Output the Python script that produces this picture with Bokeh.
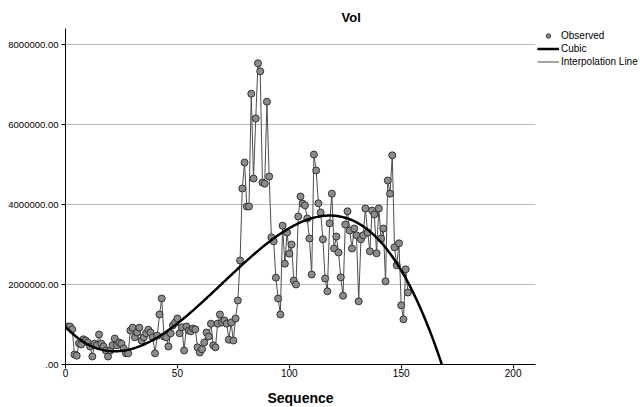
import numpy as np
from bokeh.plotting import figure
from bokeh.models import Range1d, FixedTicker, Legend, LegendItem, ColumnDataSource
from bokeh.embed import file_html
from bokeh.resources import INLINE

# ---- data ----
sequence = list(range(1, 154))
vol = [
    950000, 950000, 880000, 250000, 220000, 530000, 500000, 630000, 600000, 550000,
    450000, 200000, 520000, 480000, 750000, 520000, 450000, 350000, 200000, 350000,
    480000, 650000, 480000, 550000, 520000, 400000, 280000, 280000, 850000, 920000,
    680000, 800000, 920000, 600000, 680000, 780000, 870000, 800000, 680000, 280000,
    720000, 1250000, 1650000, 700000, 680000, 450000, 780000, 980000, 1050000, 1150000,
    780000, 930000, 350000, 950000, 850000, 830000, 900000, 880000, 430000, 300000,
    380000, 550000, 800000, 700000, 1020000, 480000, 430000, 1020000, 1250000, 1050000,
    1100000, 1020000, 620000, 1050000, 600000, 1150000, 1600000, 2600000, 4400000, 5050000,
    3950000, 3950000, 6770000, 4650000, 6150000, 7530000, 7330000, 4550000, 4520000, 6570000,
    4700000, 3180000, 3080000, 2170000, 1650000, 1250000, 3470000, 2520000, 3300000, 2770000,
    3000000, 2100000, 2000000, 3700000, 4200000, 4020000, 3980000, 3650000, 3150000, 2250000,
    5250000, 4850000, 4030000, 3800000, 3130000, 2150000, 1830000, 3530000, 4270000, 2900000,
    3200000, 2800000, 2180000, 1720000, 3500000, 3830000, 3350000, 2900000, 3400000, 3230000,
    1580000, 3130000, 3230000, 3900000, 3300000, 2830000, 3850000, 3750000, 2780000, 3900000,
    3150000, 3400000, 2080000, 4600000, 4270000, 5230000, 2930000, 2480000, 3030000, 1480000,
    1130000, 2380000, 1800000,
]
x_ticks = [0, 50, 100, 150, 200]
y_ticks = [0, 2000000, 4000000, 6000000, 8000000]
y_tick_labels = [".00", "2000000.00", "4000000.00", "6000000.00", "8000000.00"]

# cubic fit of the observed series
coef = np.polyfit(sequence, vol, 3)
cx = np.linspace(0, 210, 421)
cy = np.polyval(coef, cx)

FONT = "Liberation Sans"

p = figure(
    frame_width=470, frame_height=336,
    x_range=Range1d(0, 210), y_range=Range1d(0, 8400000),
    output_backend="svg", toolbar_location=None, title="Vol",
    min_border_left=65, min_border_right=0, min_border_top=28, min_border_bottom=40,
)
p.outline_line_color = None
p.background_fill_color = "white"
p.border_fill_color = "white"

p.title.text_font = FONT
p.title.text_font_size = "13px"
p.title.text_font_style = "bold"
p.title.text_color = "#000000"
p.title.align = "left"
p.title.offset = 276
p.title.standoff = 8

# axes
for ax in (p.xaxis[0], p.yaxis[0]):
    ax.axis_line_color = "#000000"
    ax.major_tick_line_color = "#000000"
    ax.major_tick_out = 4
    ax.major_tick_in = 0
    ax.minor_tick_line_color = None
    ax.major_label_text_font = FONT
    ax.major_label_text_color = "#000000"
    ax.major_label_standoff = 0
p.yaxis.major_label_standoff = 3
p.yaxis.major_label_text_font_size = "9.5px"
p.xaxis.major_label_text_font_size = "10px"

p.xaxis.ticker = FixedTicker(ticks=x_ticks)
p.yaxis.ticker = FixedTicker(ticks=y_ticks)
p.yaxis.major_label_overrides = {t: l for t, l in zip(y_ticks, y_tick_labels)}
p.xaxis.axis_label = "Sequence"
p.xaxis.axis_label_text_font = FONT
p.xaxis.axis_label_text_font_size = "14px"
p.xaxis.axis_label_text_font_style = "bold"
p.xaxis.axis_label_text_color = "#000000"
p.xaxis.axis_label_standoff = 10

p.xgrid.visible = False
p.ygrid.ticker = FixedTicker(ticks=y_ticks)
p.ygrid.grid_line_color = "#bdbdbd"
p.ygrid.grid_line_width = 1

src = ColumnDataSource(dict(x=sequence, y=vol))
r_interp = p.line("x", "y", source=src, line_color="#4d4d4d", line_width=1)
r_obs = p.scatter("x", "y", source=src, size=7, fill_color="#8c8c8c",
                  line_color="#333333", line_width=1)
r_cubic = p.line(cx, cy, line_color="#000000", line_width=2.5)

legend = Legend(
    items=[
        LegendItem(label="Observed", renderers=[r_obs]),
        LegendItem(label="Cubic", renderers=[r_cubic]),
        LegendItem(label="Interpolation Line", renderers=[r_interp]),
    ],
    location="top_left",
    label_text_font=FONT, label_text_font_size="10px", label_text_color="#000000",
    glyph_width=22, glyph_height=11, label_height=11, label_standoff=2,
    spacing=2, padding=0, margin=2,
    border_line_color=None, background_fill_alpha=0,
)
p.add_layout(legend, "right")

open("out.html", "w").write(file_html(p, INLINE))
